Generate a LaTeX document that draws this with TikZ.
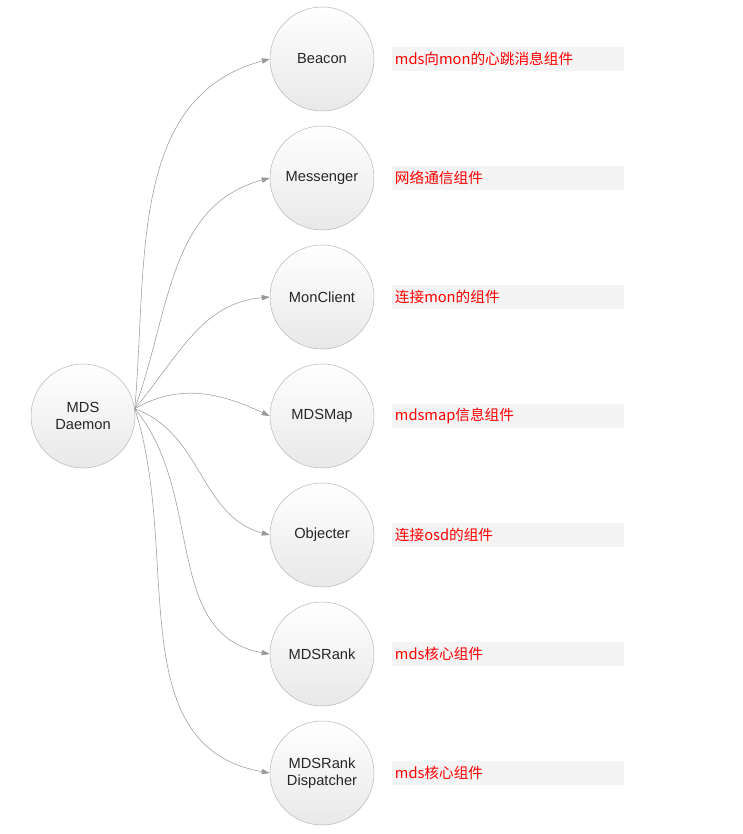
\documentclass[tikz,border=0pt]{standalone}
\usepackage{fontspec}
\setmainfont{Liberation Sans}
\newfontfamily\cjk{Noto Sans CJK SC}
\usetikzlibrary{arrows.meta}
\tikzset{
  comp/.style={circle,draw=gray!55,top color=white,bottom color=gray!18,
    minimum size=78pt,inner sep=0pt,align=center,font=\fontsize{11}{13}\selectfont,text=black!85},
  note/.style={fill=gray!9,minimum width=174pt,minimum height=18pt,anchor=west,
    inner sep=2pt,text=red,font=\cjk\fontsize{11}{13}\selectfont,text width=170pt},
  link/.style={-{Triangle[length=6pt,width=4pt]},gray!80,thin}
}
\begin{document}
\begin{tikzpicture}[x=0.75pt,y=-0.75pt]
\useasboundingbox (0,0) rectangle (742,834);
\node[comp] (mds) at (83,416) {MDS\\Daemon};
\node[comp] (beacon) at (322,59) {Beacon};
\node[comp] (msgr) at (322,178) {Messenger};
\node[comp] (monc) at (322,297) {MonClient};
\node[comp] (mdsmap) at (322,416) {MDSMap};
\node[comp] (objr) at (322,535) {Objecter};
\node[comp] (rank) at (322,654) {MDSRank};
\node[comp] (disp) at (322,773) {MDSRank\\Dispatcher};
%
\node[note] (nbeacon) at (392,59) {mds向mon的心跳消息组件};
\node[note] (nmsgr) at (392,178) {网络通信组件};
\node[note] (nmonc) at (392,297) {连接mon的组件};
\node[note] (nmdsmap) at (392,416) {mdsmap信息组件};
\node[note] (nobjr) at (392,535) {连接osd的组件};
\node[note] (nrank) at (392,654) {mds核心组件};
\node[note] (ndisp) at (392,773) {mds核心组件};
%
\draw[link] (mds.8) to[out=85,in=195] (beacon.west);
\draw[link] (mds.8) to[out=70,in=195] (msgr.west);
\draw[link] (mds.8) to[out=50,in=185] (monc.west);
\draw[link] (mds.8) to[out=30,in=155] (mdsmap.west);
\draw[link] (mds.8) to[out=-20,in=165] (objr.west);
\draw[link] (mds.8) to[out=-50,in=170] (rank.west);
\draw[link] (mds.8) to[out=-72,in=170] (disp.west);
\end{tikzpicture}
\end{document}
